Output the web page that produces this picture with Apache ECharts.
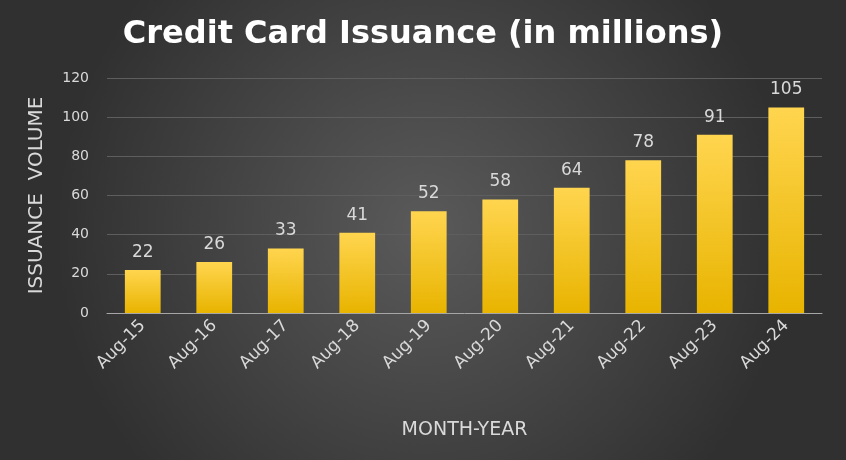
<!DOCTYPE html>
<html><head><meta charset="utf-8">
<script src="https://cdn.jsdelivr.net/npm/echarts@6/dist/echarts.min.js"></script>
<style>html,body{margin:0;padding:0;}#c{width:846px;height:460px;}</style>
</head><body><div id="c"></div>
<script>
const categories = ["Aug-15","Aug-16","Aug-17","Aug-18","Aug-19","Aug-20","Aug-21","Aug-22","Aug-23","Aug-24"];
const values = [22,26,33,41,52,58,64,78,91,105];
const chart = echarts.init(document.getElementById('c'));
chart.setOption({
  backgroundColor: {type:'radial',x:0.5,y:0.5,r:0.8,colorStops:[{offset:0,color:'#5a5a5a'},{offset:1,color:'#303030'}]},
  title:{text:'Credit Card Issuance (in millions)',left:'center',top:14,
    textStyle:{color:'#ffffff',fontFamily:'DejaVu Sans',fontWeight:'bold',fontSize:32}},
  grid:{left:107,right:24,top:78,bottom:147},
  xAxis:{type:'category',data:categories,
    name:'MONTH-YEAR',nameLocation:'middle',nameGap:108,
    nameTextStyle:{color:'#d9d9d9',fontSize:19,fontFamily:'DejaVu Sans'},
    axisLine:{lineStyle:{color:'#a6a6a6'}},axisTick:{show:false},
    axisLabel:{color:'#d9d9d9',fontSize:17,rotate:45,fontFamily:'DejaVu Sans',interval:0,margin:10}},
  yAxis:{type:'value',min:0,max:120,interval:20,
    name:'ISSUANCE  VOLUME',nameLocation:'middle',nameGap:60,
    nameTextStyle:{color:'#d9d9d9',fontSize:20,fontFamily:'DejaVu Sans'},
    axisLine:{show:false},axisTick:{show:false},
    axisLabel:{color:'#d9d9d9',fontSize:14,fontFamily:'DejaVu Sans',margin:18},
    splitLine:{lineStyle:{color:'#5e5e5e'}}},
  series:[{type:'bar',data:values,barWidth:'50%',
    itemStyle:{color:{type:'linear',x:0,y:0,x2:0,y2:1,colorStops:[{offset:0,color:'#ffd54f'},{offset:1,color:'#e8b400'}]}},
    label:{show:true,position:'top',color:'#d9d9d9',fontSize:17,fontFamily:'DejaVu Sans',distance:9}}]
});
</script></body></html>
